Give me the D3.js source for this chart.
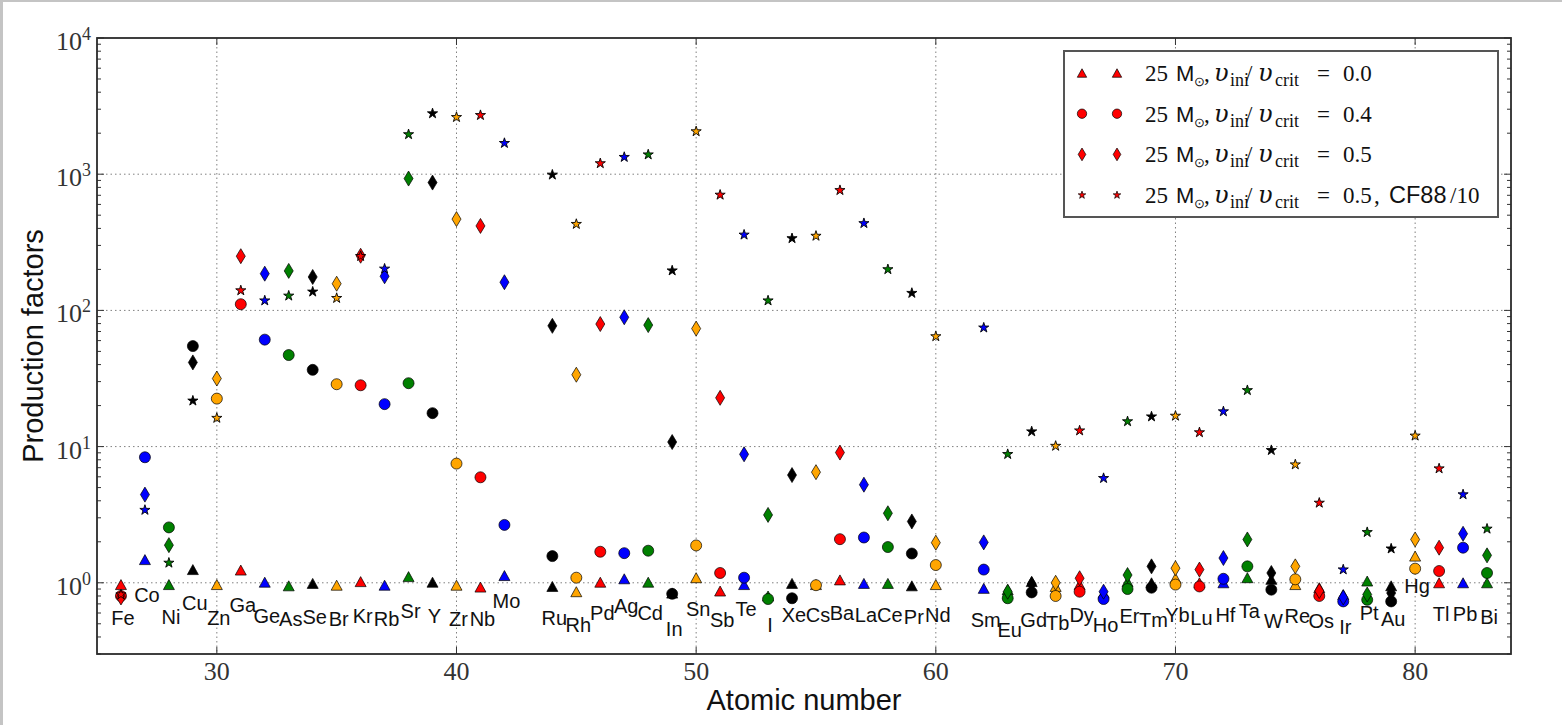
<!DOCTYPE html>
<html>
<head>
<meta charset="utf-8">
<title>Production factors</title>
<script src="https://cdn.jsdelivr.net/npm/d3@7"></script>
<style>
body { margin: 0; background: #fff; }
#chart { width: 1562px; height: 725px; }
</style>
</head>
<body>
<div id="chart"></div>
<script>
var document = document;
var window = window;
var d3 = d3;

// element symbols and atomic numbers (Tc and Pm are not in the plot)
var elements = ['Fe', 'Co', 'Ni', 'Cu', 'Zn', 'Ga', 'Ge', 'As', 'Se', 'Br', 'Kr', 'Rb', 'Sr', 'Y', 'Zr', 'Nb', 'Mo',
    'Ru', 'Rh', 'Pd', 'Ag', 'Cd', 'In', 'Sn', 'Sb', 'Te', 'I', 'Xe', 'Cs', 'Ba', 'La', 'Ce', 'Pr', 'Nd',
    'Sm', 'Eu', 'Gd', 'Tb', 'Dy', 'Ho', 'Er', 'Tm', 'Yb', 'Lu', 'Hf', 'Ta', 'W', 'Re', 'Os', 'Ir', 'Pt', 'Au',
    'Hg', 'Tl', 'Pb', 'Bi'];
var atomicNumbers = [26, 27, 28, 29, 30, 31, 32, 33, 34, 35, 36, 37, 38, 39, 40, 41, 42,
    44, 45, 46, 47, 48, 49, 50, 51, 52, 53, 54, 55, 56, 57, 58, 59, 60,
    62, 63, 64, 65, 66, 67, 68, 69, 70, 71, 72, 73, 74, 75, 76, 77, 78, 79,
    80, 81, 82, 83];

// production factors, 25 Msun, vini/vcrit = 0.0 (triangles)
var pfRot00 = [0.97, 1.48, 0.97, 1.25, 0.97, 1.24, 1.01, 0.95, 0.99, 0.96, 1.02, 0.96, 1.11, 1.01, 0.96, 0.93, 1.13,
    0.94, 0.86, 1.01, 1.07, 1.01, 0.84, 1.09, 0.87, 0.97, 0.80, 0.99, 0.97, 1.05, 0.99, 0.99, 0.95, 0.97,
    0.91, 0.89, 1.02, 0.94, 0.97, 0.84, 1.02, 1.00, 1.08, 1.00, 1.00, 1.09, 1.06, 0.97, 0.92, 0.82, 1.03, 0.95,
    1.57, 1.00, 1.00, 1.00];
// vini/vcrit = 0.4 (circles)
var pfRot04 = [0.80, 8.35, 2.55, 54.7, 22.5, 111, 61, 47, 36.6, 28.7, 28.2, 20.5, 29.2, 17.6, 7.5, 5.95, 2.66,
    1.57, 1.09, 1.69, 1.65, 1.72, 0.83, 1.88, 1.18, 1.09, 0.76, 0.77, 0.96, 2.09, 2.15, 1.83, 1.64, 1.35,
    1.25, 0.77, 0.85, 0.80, 0.86, 0.76, 0.90, 0.92, 0.97, 0.94, 1.07, 1.32, 0.89, 1.06, 0.80, 0.73, 0.75, 0.73,
    1.27, 1.22, 1.81, 1.18];
// vini/vcrit = 0.5 (diamonds)
var pfRot05 = [0.78, 4.44, 1.89, 41.5, 31.6, 250, 186, 195, 176, 157, 252, 178, 929, 868, 468, 417, 161,
    77, 33.7, 79.4, 89, 78, 10.8, 73.5, 22.8, 8.78, 3.15, 6.18, 6.49, 9.04, 5.25, 3.24, 2.82, 1.97,
    1.98, 0.86, 0.98, 1.00, 1.08, 0.86, 1.14, 1.32, 1.28, 1.25, 1.52, 2.08, 1.18, 1.32, 0.87, 0.78, 0.82, 0.84,
    2.08, 1.81, 2.29, 1.59];
// vini/vcrit = 0.5, CF88/10 (stars)
var pfRot05cf = [0.82, 3.42, 1.40, 21.7, 16.2, 140, 118, 128, 137, 123, 250, 202, 1960, 2790, 2620, 2710, 1690,
    990, 430, 1200, 1335, 1393, 196, 2060, 705, 359, 118, 338, 352, 762, 436, 200, 134, 64.4,
    74.6, 8.79, 12.9, 10.1, 13.1, 5.86, 15.3, 16.6, 16.8, 12.7, 18.1, 25.9, 9.4, 7.38, 3.86, 1.25, 2.35, 1.78,
    12.0, 6.9, 4.45, 2.49];
// height of each element label, in production-factor units
var labelHeights = [0.55, 0.82, 0.56, 0.71, 0.55, 0.69, 0.57, 0.54, 0.56, 0.54, 0.575, 0.54, 0.62, 0.57, 0.54, 0.54, 0.74,
    0.55, 0.49, 0.60, 0.68, 0.60, 0.46, 0.64, 0.53, 0.64, 0.49, 0.58, 0.58, 0.60, 0.58, 0.58, 0.56, 0.58,
    0.53, 0.45, 0.53, 0.51, 0.58, 0.49, 0.57, 0.53, 0.58, 0.55, 0.58, 0.62, 0.52, 0.57, 0.52, 0.47, 0.60, 0.54,
    0.95, 0.59, 0.59, 0.56];

var xTicks = [30, 40, 50, 60, 70, 80];
var yTicks = [1, 10, 100, 1000, 10000];
var yTickExponents = ['0', '1', '2', '3', '4'];
var elementColors = ['#ff0000', '#0000ff', '#008000', '#000000', '#ffa500'];
var seriesMarkers = ['triangle', 'circle', 'diamond', 'star'];
var legendValues = ['0.0', '0.4', '0.5', '0.5'];

function elementColor(z) {
    'use strict';
    return elementColors[(z - 26) % 5];
}

function markerPath(kind, small) {
    'use strict';
    var k = small ? 0.85 : 1;
    if (kind === 'triangle') {
        return 'M0,' + (-5 * k) + 'L' + (5.5 * k) + ',' + (5 * k) + 'L' + (-5.5 * k) + ',' + (5 * k) + 'Z';
    } else if (kind === 'circle') {
        return d3.symbol(d3.symbolCircle, Math.PI * 5.5 * 5.5 * k * k)();
    } else if (kind === 'diamond') {
        return 'M0,' + (-7.5 * k) + 'L' + (4.5 * k) + ',0L0,' + (7.5 * k) + 'L' + (-4.5 * k) + ',0Z';
    }
    return d3.symbol(d3.symbolStar, small ? 18 : 32)();
}

// one legend line, pieces placed like the mathtext of the original
function legendText(g, ry, value, last) {
    'use strict';
    var serif = 'Liberation Serif, serif', sans = 'Liberation Sans, Arial, sans-serif', greek = 'DejaVu Serif, serif';
    var parts = [
        [1145, '25', serif, 23, 0, ''],
        [1176, 'M', sans, 22, 0, ''],
        [1194, '\u2299', serif, 13, 5, ''],
        [1204, ',', serif, 23, 0, ''],
        [1214, '\u03c5', greek, 24, 0, 'italic'],
        [1230, 'ini', serif, 18, 5, ''],
        [1246, '/', serif, 23, 0, ''],
        [1258, '\u03c5', greek, 24, 0, 'italic'],
        [1275, 'crit', serif, 18, 5, ''],
        [1317, '=', serif, 23, 0, ''],
        [1343, value, serif, 23, 0, '']
    ];
    if (last) {
        parts.push([1374, ',', serif, 23, 0, '']);
        parts.push([1389, 'CF88', sans, 23.5, 0, '']);
        parts.push([1450, '/10', serif, 23, 0, '']);
    }
    parts.forEach(function (p) {
        g.append('text')
            .attr('x', p[0]).attr('y', ry + 8 + p[4])
            .attr('font-family', p[2]).attr('font-size', p[3])
            .attr('font-style', p[5] || 'normal')
            .attr('fill', '#111')
            .text(p[1]);
    });
}

function init() {
    'use strict';
    var width = 1562, height = 725;
    var left = 97, right = 1511, top = 38, bottom = 654;
    var series = [pfRot00, pfRot04, pfRot05, pfRot05cf];

    var svg = d3.select('#chart')
        .append('svg')
        .attr('width', width)
        .attr('height', height);

    svg.append('rect').attr('width', width).attr('height', height).attr('fill', '#c4c4c4');
    svg.append('rect').attr('x', 3).attr('y', 2).attr('width', width - 3).attr('height', height - 2).attr('fill', '#fff');

    var x = d3.scaleLinear().domain([25, 84]).range([left, right]);
    var y = d3.scaleLog().domain([0.3, 10000]).range([bottom, top]);

    // dotted grid
    svg.append('g').selectAll('line').data(xTicks).enter().append('line')
        .attr('x1', function (d) { return x(d); }).attr('x2', function (d) { return x(d); })
        .attr('y1', top).attr('y2', bottom)
        .attr('stroke', '#808080').attr('stroke-width', 1).attr('stroke-dasharray', '1.5,3');
    svg.append('g').selectAll('line').data(yTicks.slice(0, 4)).enter().append('line')
        .attr('x1', left).attr('x2', right)
        .attr('y1', function (d) { return y(d); }).attr('y2', function (d) { return y(d); })
        .attr('stroke', '#808080').attr('stroke-width', 1).attr('stroke-dasharray', '1.5,3');

    // ticks pointing inwards on all four sides
    var minor = [];
    [0.1, 1, 10, 100, 1000].forEach(function (dec) {
        d3.range(2, 10).forEach(function (m) {
            var v = dec * m;
            if (v > 0.3 && v < 10000) { minor.push(v); }
        });
    });
    var ticks = svg.append('g').attr('stroke', '#333').attr('stroke-width', 1);
    xTicks.forEach(function (t) {
        ticks.append('line').attr('x1', x(t)).attr('x2', x(t)).attr('y1', bottom).attr('y2', bottom - 7);
        ticks.append('line').attr('x1', x(t)).attr('x2', x(t)).attr('y1', top).attr('y2', top + 7);
    });
    yTicks.forEach(function (t) {
        ticks.append('line').attr('x1', left).attr('x2', left + 7).attr('y1', y(t)).attr('y2', y(t));
        ticks.append('line').attr('x1', right).attr('x2', right - 7).attr('y1', y(t)).attr('y2', y(t));
    });
    minor.forEach(function (t) {
        ticks.append('line').attr('x1', left).attr('x2', left + 4).attr('y1', y(t)).attr('y2', y(t));
        ticks.append('line').attr('x1', right).attr('x2', right - 4).attr('y1', y(t)).attr('y2', y(t));
    });

    // markers
    var marks = svg.append('g');
    atomicNumbers.forEach(function (z, i) {
        series.forEach(function (vals, s) {
            marks.append('path')
                .attr('d', markerPath(seriesMarkers[s], false))
                .attr('transform', 'translate(' + x(z) + ',' + y(vals[i]) + ')')
                .attr('fill', elementColor(z))
                .attr('stroke', '#000')
                .attr('stroke-width', s === 3 ? 0.9 : 0.7);
        });
    });

    // element names
    svg.append('g').selectAll('text').data(elements).enter().append('text')
        .attr('x', function (d, i) { return x(atomicNumbers[i]) + 2; })
        .attr('y', function (d, i) { return y(labelHeights[i]); })
        .attr('dy', '0.35em')
        .attr('text-anchor', 'middle')
        .attr('font-family', 'Liberation Sans, Arial, sans-serif')
        .attr('font-size', 20)
        .attr('fill', '#111')
        .text(function (d) { return d; });

    // frame
    svg.append('rect').attr('x', left).attr('y', top).attr('width', right - left).attr('height', bottom - top)
        .attr('fill', 'none').attr('stroke', '#2b2b2b').attr('stroke-width', 1.8);

    // tick labels
    svg.append('g').selectAll('text').data(xTicks).enter().append('text')
        .attr('x', function (d) { return x(d); })
        .attr('y', 680)
        .attr('text-anchor', 'middle')
        .attr('font-family', 'Liberation Serif, serif')
        .attr('font-size', 26)
        .attr('fill', '#333')
        .text(function (d) { return d; });
    var yl = svg.append('g').selectAll('text').data(yTicks).enter().append('text')
        .attr('x', 91)
        .attr('y', function (d) { return y(d) + 12; })
        .attr('text-anchor', 'end')
        .attr('font-family', 'Liberation Serif, serif')
        .attr('fill', '#333');
    yl.append('tspan').attr('font-size', 26).text('10');
    yl.append('tspan').attr('font-size', 18).attr('dy', -10).text(function (d, i) { return yTickExponents[i]; });

    // axis titles
    svg.append('text')
        .attr('x', (left + right) / 2).attr('y', 710)
        .attr('text-anchor', 'middle')
        .attr('font-family', 'Liberation Sans, Arial, sans-serif')
        .attr('font-size', 29)
        .attr('fill', '#111')
        .text('Atomic number');
    svg.append('text')
        .attr('transform', 'translate(43,' + ((top + bottom) / 2) + ') rotate(-90)')
        .attr('text-anchor', 'middle')
        .attr('font-family', 'Liberation Sans, Arial, sans-serif')
        .attr('font-size', 29)
        .attr('fill', '#111')
        .text('Production factors');

    // legend
    var lg = svg.append('g');
    lg.append('rect').attr('x', 1064).attr('y', 51).attr('width', 434).attr('height', 166)
        .attr('fill', '#fff').attr('stroke', '#555').attr('stroke-width', 2);
    seriesMarkers.forEach(function (kind, s) {
        var ry = 73 + s * 40.7;
        [1082, 1117].forEach(function (mx) {
            lg.append('path')
                .attr('d', markerPath(kind, true))
                .attr('transform', 'translate(' + mx + ',' + ry + ')')
                .attr('fill', '#ff0000').attr('stroke', '#000').attr('stroke-width', 0.7);
        });
        legendText(lg, ry, legendValues[s], s === 3);
    });
}

window.onload = init;
</script>
</body>
</html>
